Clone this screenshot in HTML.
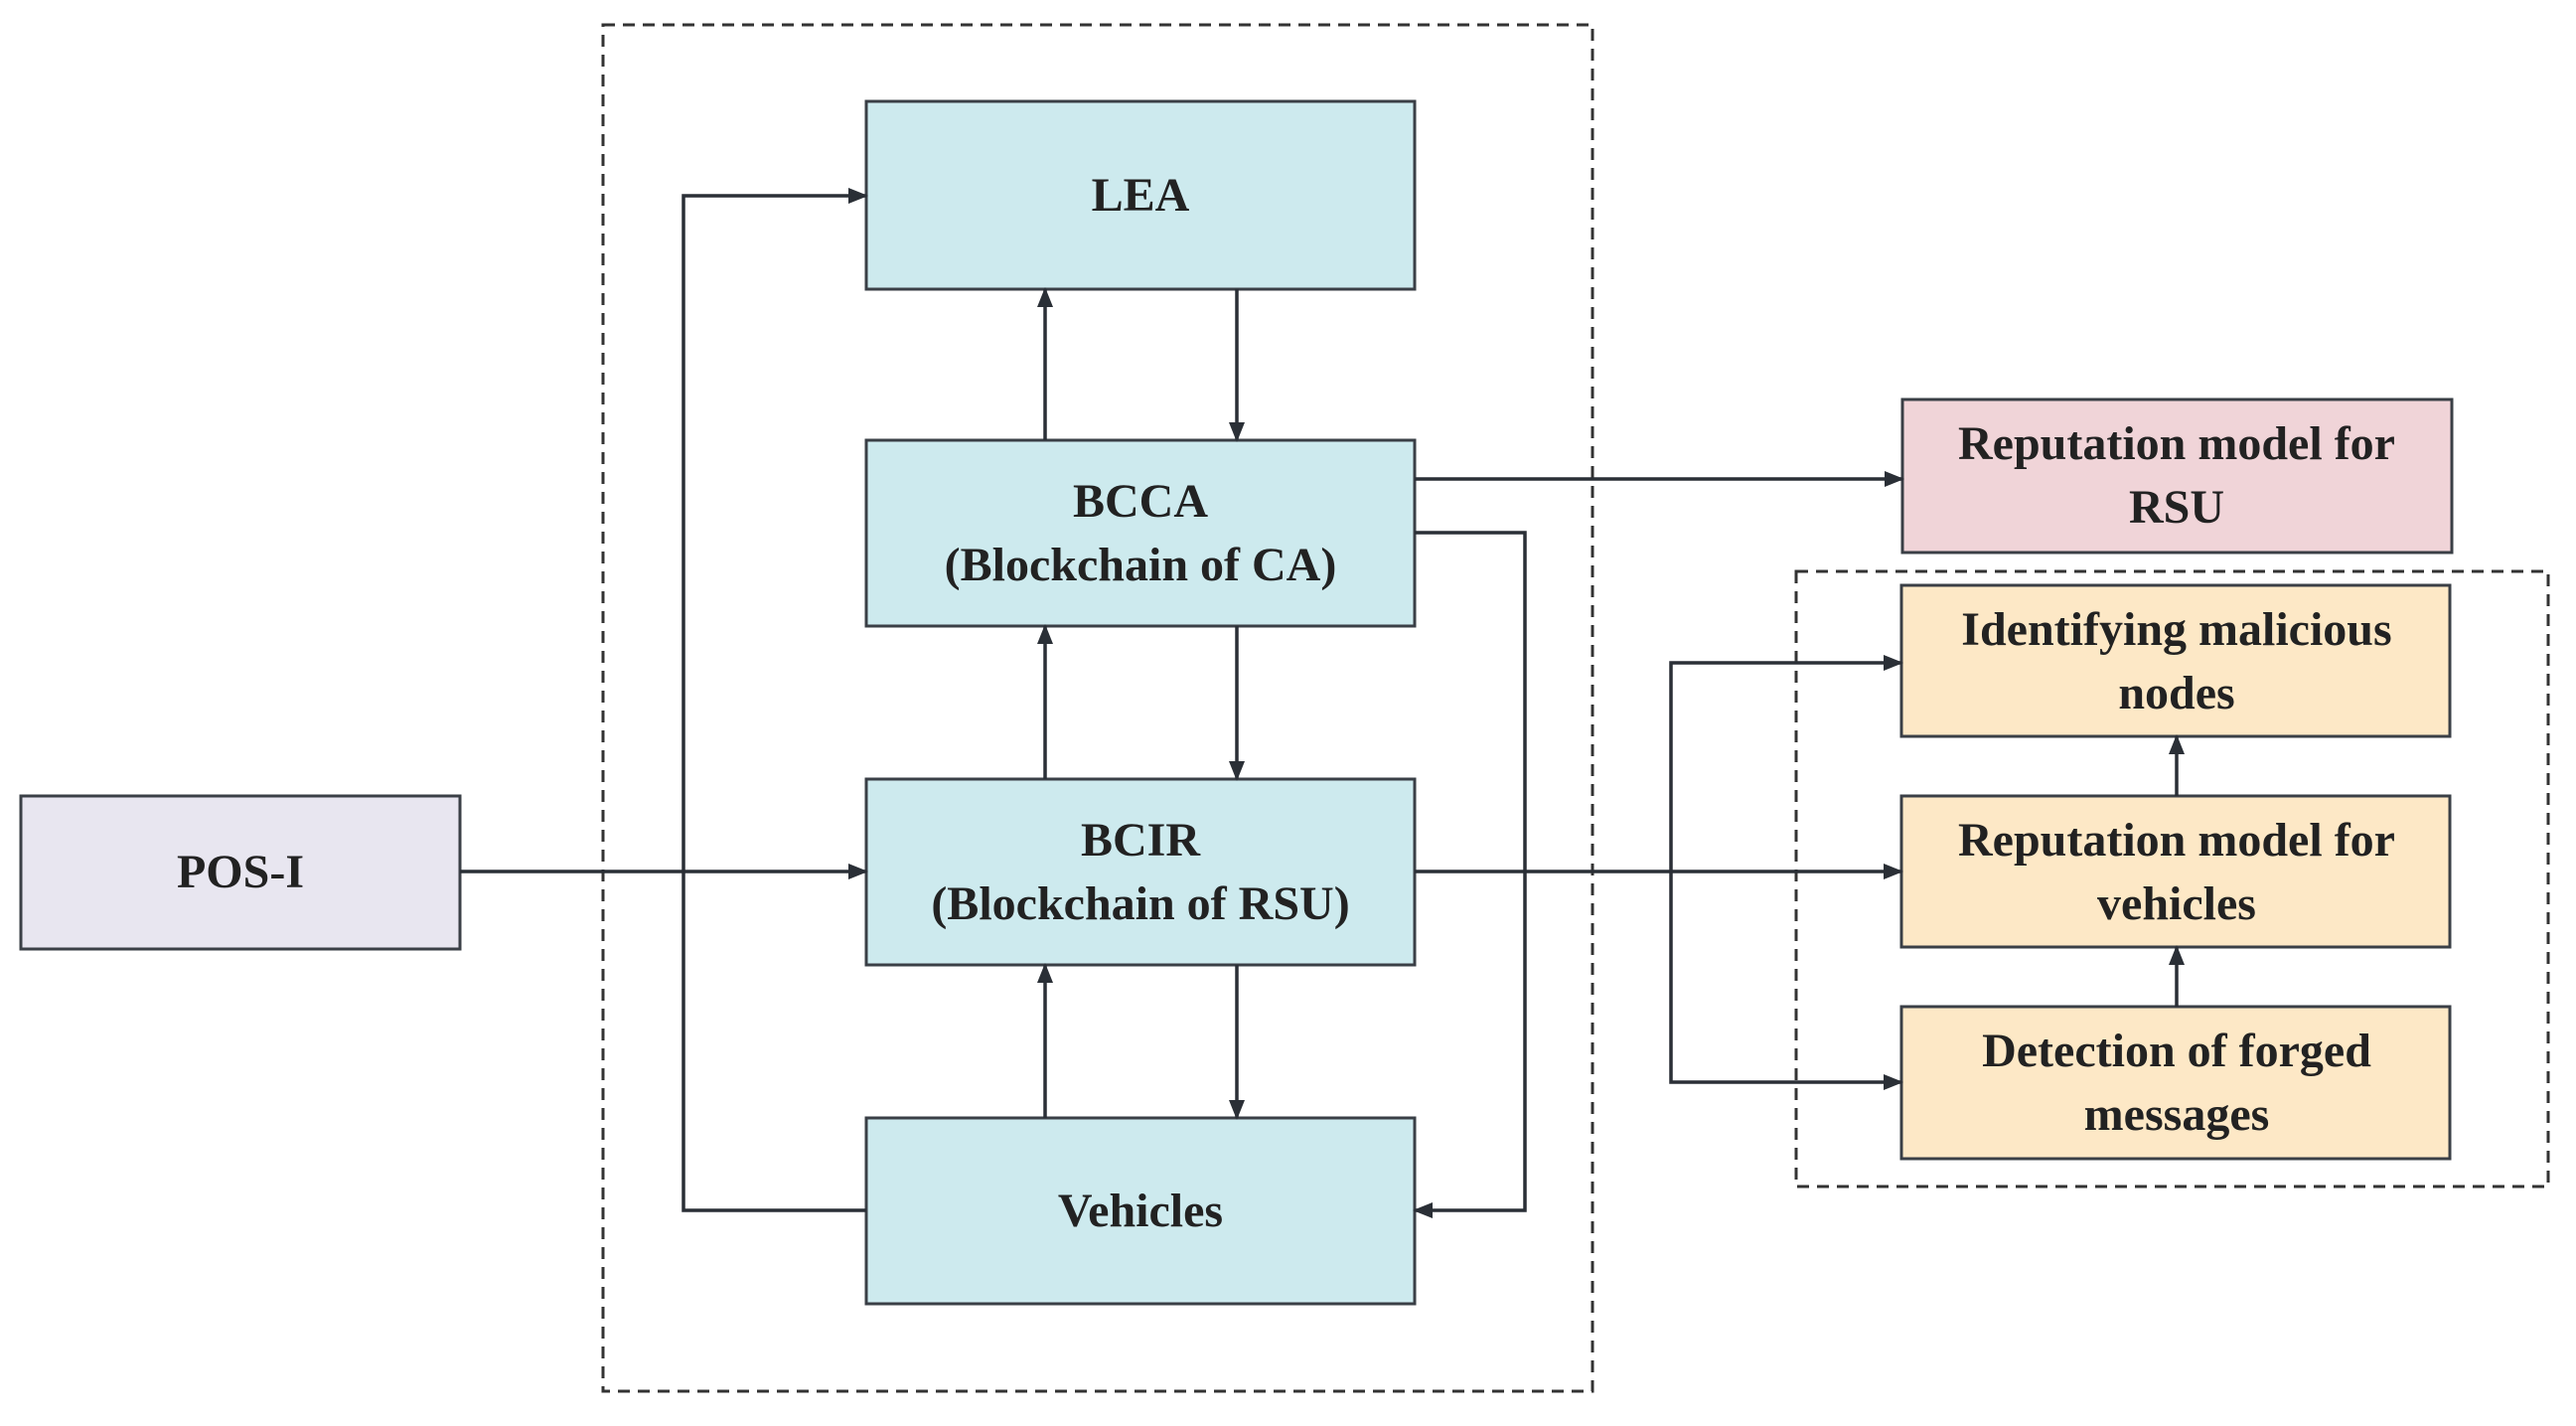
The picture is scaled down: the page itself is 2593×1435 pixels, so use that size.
<!DOCTYPE html>
<html><head><style>body{margin:0;background:#fff}</style></head><body>
<svg width="2593" height="1430" xmlns="http://www.w3.org/2000/svg" font-family="Liberation Serif, serif" font-weight="bold" font-size="48" fill="#222">
<defs>
<marker id="b" markerWidth="20" markerHeight="20" refX="18" refY="10" orient="auto" markerUnits="userSpaceOnUse" viewBox="0 0 20 20"><path d="M0,2 L20,10 L0,18z" fill="#2a2f36"/></marker></defs>
<g fill="none" stroke="#333" stroke-width="3" stroke-dasharray="12,8">
<rect x="607" y="25" width="996" height="1375"/>
<rect x="1808" y="575" width="757" height="619"/>
</g>
<g stroke="#3a3f46" stroke-width="3">
<rect x="872" y="102" width="552" height="189" fill="#cdeaee"/>
<rect x="872" y="443" width="552" height="187" fill="#cdeaee"/>
<rect x="872" y="784" width="552" height="187" fill="#cdeaee"/>
<rect x="872" y="1125" width="552" height="187" fill="#cdeaee"/>
<rect x="21" y="801" width="442" height="154" fill="#e8e6f0"/>
<rect x="1915" y="402" width="553" height="154" fill="#f0d4d8"/>
<rect x="1914" y="589" width="552" height="152" fill="#fde8c6"/>
<rect x="1914" y="801" width="552" height="152" fill="#fde8c6"/>
<rect x="1914" y="1013" width="552" height="153" fill="#fde8c6"/>
</g>
<g stroke="#2a2f36" stroke-width="3.5" fill="none" marker-end="url(#b)">
<path d="M1052 443 V291"/><path d="M1245 291 V443"/>
<path d="M1052 784 V630"/><path d="M1245 630 V784"/>
<path d="M1052 1125 V971"/><path d="M1245 971 V1125"/>
<path d="M872 1218 H688 V197 H872"/>
<path d="M1424 536 H1535 V1218 H1424"/>
<path d="M463 877 H872"/>
<path d="M1424 482 H1915"/>
<path d="M1424 877 H1914"/>
<path d="M1682 877 V667 H1914"/>
<path d="M1682 877 V1089 H1914"/>
<path d="M2191 1013 V953"/>
<path d="M2191 801 V741"/>
</g>
<g text-anchor="middle">
<text x="1148" y="212">LEA</text>
<text x="1148" y="520">BCCA</text>
<text x="1148" y="584">(Blockchain of  CA)</text>
<text x="1148" y="861">BCIR</text>
<text x="1148" y="925">(Blockchain of  RSU)</text>
<text x="1148" y="1234">Vehicles</text>
<text x="242" y="893">POS-I</text>
<text x="2191" y="462">Reputation model for</text>
<text x="2191" y="526">RSU</text>
<text x="2191" y="649">Identifying malicious</text>
<text x="2191" y="713">nodes</text>
<text x="2191" y="861">Reputation model for</text>
<text x="2191" y="925">vehicles</text>
<text x="2191" y="1073">Detection of forged</text>
<text x="2191" y="1137">messages</text>
</g>
</svg>
</body></html>
